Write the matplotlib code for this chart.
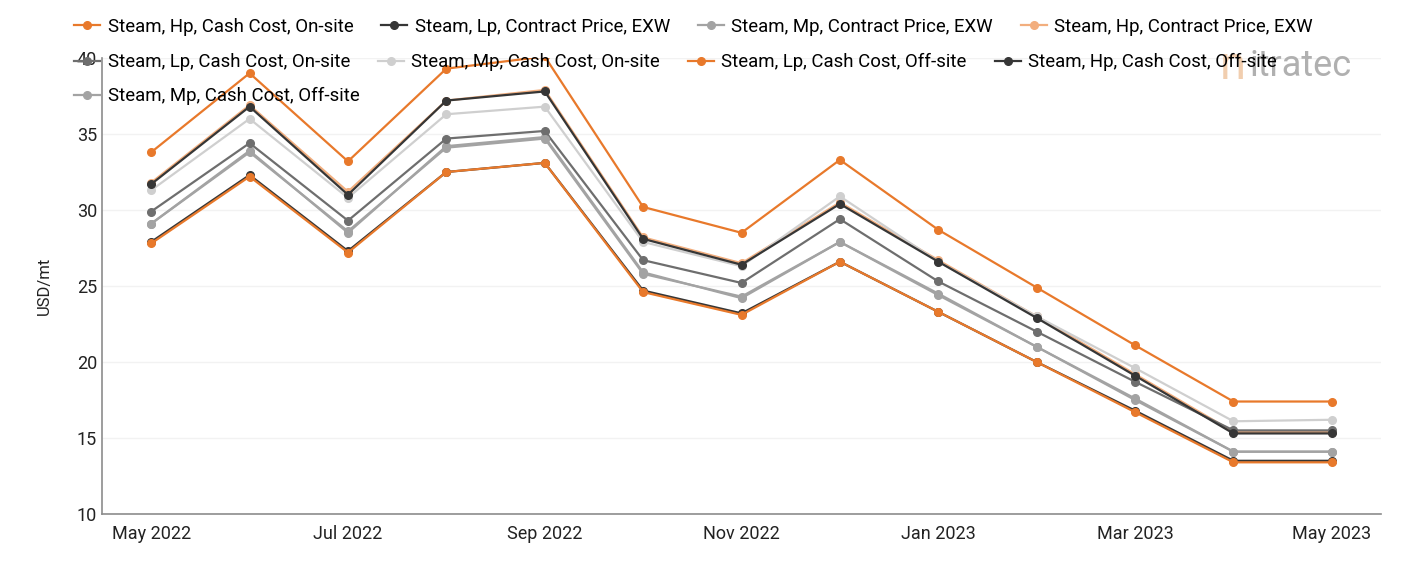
import matplotlib
matplotlib.use("Agg")
import matplotlib.pyplot as plt

plt.rcParams['font.family'] = ['Roboto', 'DejaVu Sans']

months = ['May 2022', 'Jun 2022', 'Jul 2022', 'Aug 2022', 'Sep 2022', 'Oct 2022', 'Nov 2022',
          'Dec 2022', 'Jan 2023', 'Feb 2023', 'Mar 2023', 'Apr 2023', 'May 2023']

hp_cash_onsite = [33.8, 39.0, 33.2, 39.3, 40.1, 30.2, 28.5, 33.3, 28.7, 24.9, 21.1, 17.4, 17.4]
lp_contract = [27.9, 32.3, 27.3, 32.5, 33.1, 24.7, 23.2, 26.6, 23.3, 20.0, 16.8, 13.5, 13.5]
mp_contract = [29.1, 33.9, 28.5, 34.2, 34.8, 25.9, 24.2, 27.9, 24.5, 21.0, 17.5, 14.1, 14.1]
hp_contract = [31.8, 36.9, 31.2, 37.2, 37.9, 28.2, 26.5, 30.5, 26.7, 23.0, 19.2, 15.4, 15.4]
lp_cash_onsite = [29.9, 34.4, 29.3, 34.7, 35.2, 26.7, 25.2, 29.4, 25.3, 22.0, 18.7, 15.5, 15.5]
mp_cash_onsite = [31.3, 36.0, 30.8, 36.3, 36.8, 27.9, 26.3, 30.9, 26.6, 23.0, 19.6, 16.1, 16.2]
lp_cash_offsite = [27.8, 32.2, 27.2, 32.5, 33.1, 24.6, 23.1, 26.6, 23.3, 20.0, 16.7, 13.4, 13.4]
hp_cash_offsite = [31.7, 36.8, 31.0, 37.2, 37.8, 28.1, 26.4, 30.4, 26.6, 22.9, 19.1, 15.3, 15.3]
mp_cash_offsite = [29.1, 33.8, 28.6, 34.1, 34.7, 25.8, 24.3, 27.9, 24.4, 21.0, 17.6, 14.1, 14.1]

series = [
    ("Steam, Hp, Cash Cost, On-site", hp_cash_onsite, '#e8792b'),
    ("Steam, Lp, Contract Price, EXW", lp_contract, '#363636'),
    ("Steam, Mp, Contract Price, EXW", mp_contract, '#a3a3a3'),
    ("Steam, Hp, Contract Price, EXW", hp_contract, '#f2ae7e'),
    ("Steam, Lp, Cash Cost, On-site", lp_cash_onsite, '#6e6e6e'),
    ("Steam, Mp, Cash Cost, On-site", mp_cash_onsite, '#cfcfcf'),
    ("Steam, Lp, Cash Cost, Off-site", lp_cash_offsite, '#e8792b'),
    ("Steam, Hp, Cash Cost, Off-site", hp_cash_offsite, '#363636'),
    ("Steam, Mp, Cash Cost, Off-site", mp_cash_offsite, '#a3a3a3'),
]

W, H = 1401, 561
fig = plt.figure(figsize=(W / 100, H / 100), dpi=100)
ax = fig.add_axes([102 / W, (H - 514) / H, (1381 - 102) / W, (514 - 58) / H])

x = list(range(len(months)))
handles = []
for name, vals, col in series:
    ln, = ax.plot(x, vals, color=col, lw=1.6, marker='o', ms=5.5, label=name)
    handles.append(ln)

ax.set_xlim(-0.5, len(months) - 0.5)
ax.set_ylim(10, 40)
ax.set_yticks([10, 15, 20, 25, 30, 35, 40])
ax.set_xticks(x[::2])
ax.set_xticklabels(months[::2])
ax.tick_params(length=0, labelsize=13, colors='#222222')
ax.tick_params(axis='x', pad=8)
ax.grid(axis='y', color='#f2f2f2', lw=1)
ax.set_axisbelow(True)
for s in ['top', 'right']:
    ax.spines[s].set_visible(False)
for s in ['left', 'bottom']:
    ax.spines[s].set_color('#8c8c8c')
    ax.spines[s].set_linewidth(1.2)
ax.set_ylabel('USD/mt', fontsize=12, color='#222222', labelpad=18)

# legend laid out in rows, like the original flow layout
rows = [handles[0:4], handles[4:8], handles[8:9]]
row_y = [27, 62, 96]
for hs, yy in zip(rows, row_y):
    fig.legend(handles=hs, loc='center left', bbox_to_anchor=(74 / W, 1 - yy / H),
               ncol=4, frameon=False, fontsize=13.4, handlelength=1.4, handletextpad=0.4,
               columnspacing=1.5, borderpad=0, borderaxespad=0)

# watermark logo
fig.text(1220 / W, 1 - 66 / H, 'n', fontsize=34, color='#f0c9a6', va='center', alpha=0.9)
fig.text(1250 / W, 1 - 66 / H, 'itratec', fontsize=26, color='#a8a8a8', va='center', alpha=0.9)

fig.savefig('out.png', dpi=100)
